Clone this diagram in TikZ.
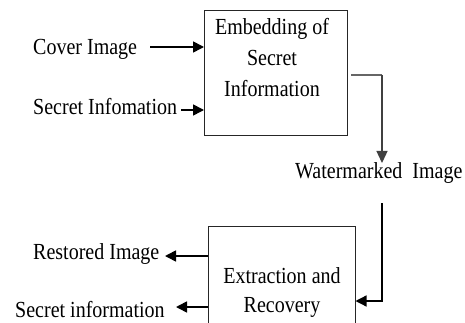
\documentclass[tikz,border=0pt]{standalone}
\usepackage{fontspec}
\setmainfont{Liberation Serif}[FakeStretch=0.87]
\usetikzlibrary{arrows.meta}
\begin{document}
\begin{tikzpicture}[x=1pt,y=-1pt,
  lbl/.style={inner sep=0pt,anchor=base,font=\fontsize{23}{28}\selectfont},
  blk/.style={draw=black!85,line width=1pt,inner sep=0pt},
  arr/.style={line width=1.6pt,-{Triangle[length=11pt,width=11pt]}},
  wire/.style={line width=1.3pt}]
\useasboundingbox (0,0) rectangle (465,323);
\clip (0,0) rectangle (465,323);
% boxes
\node[blk,minimum width=143pt,minimum height=125pt] (emb) at (276,73.5) {};
\node[blk,minimum width=147pt,minimum height=120pt] (ext) at (281.5,286) {};
% box texts
\node[lbl] (e1) at (272,35) {Embedding of};
\node[lbl] (e2) at (272,66) {Secret};
\node[lbl] (e3) at (272,97) {Information};
\node[lbl] (x1) at (282,283) {Extraction and};
\node[lbl] (x2) at (282,312) {Recovery};
% side labels
\node[lbl,anchor=base west] (cov) at (33,55) {Cover Image};
\node[lbl,anchor=base west] (sin) at (33,115) {Secret Infomation};
\node[lbl,anchor=base west] (res) at (33,259) {Restored Image};
\node[lbl,anchor=base west] (sout) at (15,317) {Secret information};
\node[lbl,anchor=base west] (wm) at (295,178) {Watermarked\ \ Image};
% coordinates
\coordinate (c1) at (150,47);
\coordinate (c2) at (181,110);
\coordinate (t1) at (351,75);
\coordinate (t2) at (382,75);
\coordinate (t3) at (382,163);
\coordinate (b1) at (382,203);
\coordinate (b2) at (382,301);
\coordinate (r1) at (165,256);
\coordinate (r2) at (176,307);
% input arrows
\draw[arr] (c1) -- (c1 -| emb.west);
\draw[arr] (c2) -- (c2 -| emb.west);
% output of embedding
\draw[wire,black!60] (t1) -- (t2);
\draw[wire,black!75,-{Triangle[length=12pt,width=11pt]}] (t2) -- (t3);
% into extraction
\draw[wire,-{Triangle[length=11pt,width=11pt]}] (b1) -- (b2) -- (b2 -| ext.east);
% outputs
\draw[arr] (r1 -| ext.west) -- (r1);
\draw[arr] (r2 -| ext.west) -- (r2);
\end{tikzpicture}
\end{document}
